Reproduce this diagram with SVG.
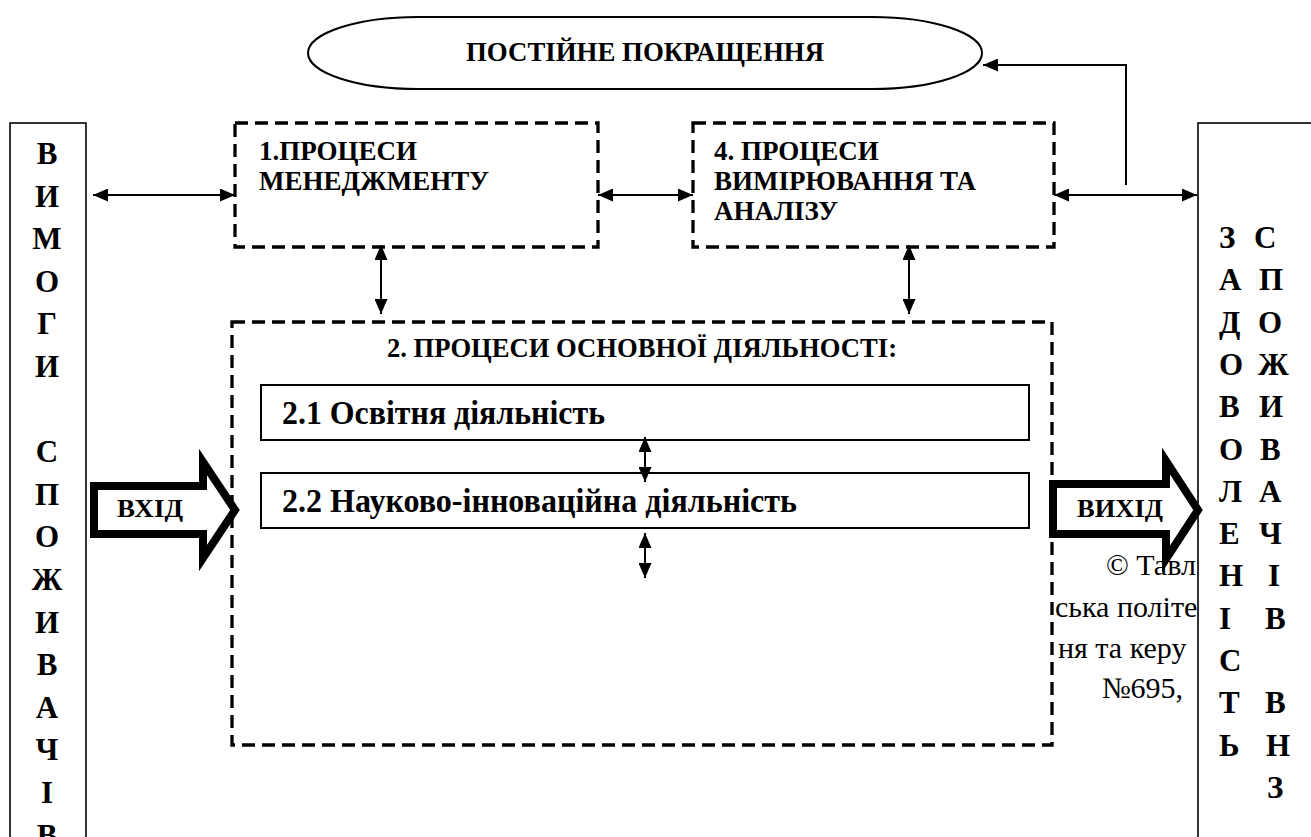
<svg xmlns="http://www.w3.org/2000/svg" width="1311" height="837" viewBox="0 0 1311 837">
<style>
.b{font-family:"Liberation Serif","Times New Roman",serif;font-weight:bold;fill:#000}
.r{font-family:"Liberation Serif","Times New Roman",serif;font-weight:normal;fill:#000;font-size:30px}
.dash{fill:none;stroke:#000;stroke-width:3.3;stroke-dasharray:13 7}
.solid{fill:#fff;stroke:#000;stroke-width:1.6}
.sub{fill:#fff;stroke:#000;stroke-width:2}
.conn{fill:none;stroke:#000;stroke-width:2}
.block{fill:none;stroke:#000;stroke-width:8;stroke-miterlimit:10;stroke-linejoin:miter}
.col{font-size:31px}
.lbl{font-size:27px}
.big{font-size:33px}
</style>
<defs>
<marker id="ah" markerUnits="userSpaceOnUse" markerWidth="15" markerHeight="13" refX="15" refY="6.5" orient="auto-start-reverse"><path d="M0,0 L15,6.5 L0,13 Z" fill="#000"/></marker>
</defs>
<rect x="0" y="0" width="1311" height="837" fill="#fff"/>

<g id="improvement">
<rect x="308" y="17" width="674" height="72" rx="110" ry="36" fill="#fff" stroke="#000" stroke-width="2"/>
<text class="b lbl" x="645" y="61" text-anchor="middle" textLength="358" lengthAdjust="spacingAndGlyphs">ПОСТІЙНЕ ПОКРАЩЕННЯ</text>
</g>

<g id="requirements">
<rect class="solid" x="10" y="123" width="76" height="800"/>
<g class="b col" text-anchor="middle">
<text x="47" y="164">В</text>
<text x="47" y="206.6">И</text>
<text x="47" y="249.2">М</text>
<text x="47" y="291.8">О</text>
<text x="47" y="334.4">Г</text>
<text x="47" y="377">И</text>
<text x="47" y="462.2">С</text>
<text x="47" y="504.8">П</text>
<text x="47" y="547.4">О</text>
<text x="47" y="590">Ж</text>
<text x="47" y="632.6">И</text>
<text x="47" y="675.2">В</text>
<text x="47" y="717.8">А</text>
<text x="47" y="760.4">Ч</text>
<text x="47" y="803">І</text>
<text x="47" y="845.6">В</text>
</g>
</g>

<g id="management">
<rect class="dash" x="235" y="123" width="363" height="124"/>
<text class="b lbl" x="259" y="160">1.ПРОЦЕСИ</text>
<text class="b lbl" x="259" y="190">МЕНЕДЖМЕНТУ</text>
</g>

<g id="measurement">
<rect class="dash" x="693" y="123" width="361" height="124"/>
<text class="b lbl" x="714" y="160">4. ПРОЦЕСИ</text>
<text class="b lbl" x="714" y="190">ВИМІРЮВАННЯ ТА</text>
<text class="b lbl" x="714" y="220">АНАЛІЗУ</text>
</g>

<g id="core">
<rect class="dash" x="232" y="322" width="820" height="423"/>
<text class="b lbl" x="642" y="357" text-anchor="middle" textLength="510" lengthAdjust="spacingAndGlyphs">2. ПРОЦЕСИ ОСНОВНОЇ ДІЯЛЬНОСТІ:</text>
</g>

<g id="education">
<rect class="sub" x="261" y="385" width="768" height="55"/>
<text class="b big" x="282" y="424" textLength="323" lengthAdjust="spacingAndGlyphs">2.1 Освітня діяльність</text>
</g>

<g id="research">
<rect class="sub" x="261" y="473" width="768" height="55"/>
<text class="b big" x="282" y="512" textLength="515" lengthAdjust="spacingAndGlyphs">2.2 Науково-інноваційна діяльність</text>
</g>

<g id="copyright">
<text class="r" x="1106" y="575">© Тавл</text>
<text class="r" x="1055" y="617">ська політе</text>
<text class="r" x="1058" y="658">ня та керу</text>
<text class="r" x="1102" y="698">№695,</text>
</g>

<g id="satisfaction">
<rect class="solid" x="1198" y="123" width="200" height="800"/>
<g class="b col">
<text x="1219" y="248">З</text>
<text x="1219" y="290.3">А</text>
<text x="1219" y="332.6">Д</text>
<text x="1219" y="374.9">О</text>
<text x="1219" y="417.2">В</text>
<text x="1219" y="459.5">О</text>
<text x="1219" y="501.8">Л</text>
<text x="1219" y="544.1">Е</text>
<text x="1219" y="586.4">Н</text>
<text x="1219" y="628.7">І</text>
<text x="1219" y="671">С</text>
<text x="1219" y="713.3">Т</text>
<text x="1219" y="755.6">Ь</text>
<text x="1254" y="248">С</text>
<text x="1259" y="290.3">П</text>
<text x="1258" y="332.6">О</text>
<text x="1258" y="374.9">Ж</text>
<text x="1259" y="417.2">И</text>
<text x="1260" y="459.5">В</text>
<text x="1259" y="501.8">А</text>
<text x="1259" y="544.1">Ч</text>
<text x="1268" y="586.4">І</text>
<text x="1265" y="628.7">В</text>
<text x="1265" y="713.3">В</text>
<text x="1266" y="755.6">Н</text>
<text x="1267" y="797.9">З</text>
</g>
</g>

<g id="input">
<path class="block" d="M94,486 H203 V462 L235,510 L203,558 V534 H94 Z"/>
<text class="b" font-size="26" x="117" y="517" textLength="66" lengthAdjust="spacingAndGlyphs">ВХІД</text>
</g>

<g id="output">
<path class="block" d="M1053,484 H1166 V461 L1198,510 L1166,559 V534 H1053 Z"/>
<text class="b" font-size="26" x="1077" y="517" textLength="86" lengthAdjust="spacingAndGlyphs">ВИХІД</text>
</g>

<g id="connectors">
<line class="conn" x1="93" y1="195" x2="235" y2="195" marker-start="url(#ah)" marker-end="url(#ah)"/>
<line class="conn" x1="598" y1="195" x2="693" y2="195" marker-start="url(#ah)" marker-end="url(#ah)"/>
<line class="conn" x1="1054" y1="195" x2="1197" y2="195" marker-start="url(#ah)" marker-end="url(#ah)"/>
<line class="conn" x1="381" y1="245" x2="381" y2="314" marker-start="url(#ah)" marker-end="url(#ah)"/>
<line class="conn" x1="909" y1="245" x2="909" y2="314" marker-start="url(#ah)" marker-end="url(#ah)"/>
<line class="conn" x1="645" y1="437" x2="645" y2="482" marker-start="url(#ah)" marker-end="url(#ah)"/>
<line class="conn" x1="645" y1="533" x2="645" y2="578" marker-start="url(#ah)" marker-end="url(#ah)"/>
<polyline class="conn" points="1126,185 1126,65 983,65" marker-end="url(#ah)"/>
</g>
</svg>
